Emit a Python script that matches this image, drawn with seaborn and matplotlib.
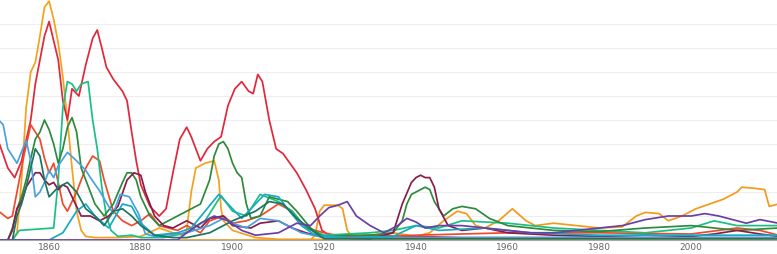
import numpy as np
import matplotlib
matplotlib.use('Agg')
import matplotlib.pyplot as plt
import seaborn as sns
import pandas as pd

# Values (year, value) for each series.
orange_yr = [1849, 1852, 1853, 1854, 1855, 1856, 1857, 1858, 1859, 1860, 1861, 1862, 1863, 1864, 1865,
             1866, 1867, 1868, 1870, 1875, 1880, 1884, 1887, 1889, 1890, 1891, 1892, 1894, 1896, 1897,
             1897.5, 1898, 1900, 1905, 1910, 1930, 1960, 2000, 2019]
orange_val = [0, 0, 0.3, 2.5, 5.5, 7.0, 7.4, 8.5, 9.7, 9.95, 9.2, 8.2, 6.8, 5.0, 3.0,
              1.2, 0.4, 0.15, 0.1, 0.1, 0.15, 0.5, 0.3, 0.2, 0.4, 2.0, 3.0, 3.2, 3.3, 2.5,
              1.3, 0.8, 0.4, 0.1, 0.03, 0.02, 0.02, 0.02, 0.02]

amber_yr = [1849, 1917, 1918, 1919, 1920, 1923, 1924, 1925, 1926, 1930, 1935, 1940, 1943, 1946,
            1949, 1951, 1953, 1955, 1958, 1961, 1964, 1966, 1970, 1975, 1980, 1985, 1988, 1990,
            1993, 1995, 1998, 2001, 2004, 2007, 2010, 2011, 2014, 2016, 2017, 2019]
amber_val = [0, 0, 0.2, 1.2, 1.45, 1.45, 1.3, 0.4, 0.15, 0.2, 0.3, 0.15, 0.3, 0.8,
             1.2, 1.1, 0.6, 0.5, 0.8, 1.3, 0.8, 0.6, 0.7, 0.6, 0.5, 0.55, 1.0, 1.15,
             1.1, 0.8, 1.0, 1.3, 1.5, 1.7, 2.0, 2.2, 2.15, 2.1, 1.4, 1.5]

red_yr = [1849, 1851, 1852.5, 1854, 1856, 1857, 1858, 1859, 1860, 1861, 1862, 1863, 1864, 1865,
          1866.5, 1868, 1869.5, 1870.5, 1871.5, 1872.5, 1874, 1876, 1877, 1878, 1879, 1880, 1882,
          1884, 1885.5, 1887, 1888.5, 1890, 1891, 1893, 1894.5, 1896, 1897.5, 1899, 1900.5, 1902,
          1903.5, 1904.5, 1905.5, 1906.5, 1908, 1909.5, 1911, 1912.5, 1914, 1916, 1918, 1919.5,
          1921, 1925, 1930, 1940, 1950, 1970, 1990, 2010, 2019]
red_val = [4.1, 3.0, 2.6, 3.3, 5.0, 6.5, 7.5, 8.5, 9.1, 8.3, 7.5, 5.8, 5.0, 6.3,
           6.0, 7.3, 8.4, 8.75, 8.0, 7.2, 6.7, 6.2, 5.8, 4.5, 3.3, 2.3, 1.4,
           1.0, 1.3, 2.8, 4.2, 4.7, 4.3, 3.3, 3.8, 4.1, 4.3, 5.6, 6.3, 6.6,
           6.2, 6.1, 6.9, 6.6, 5.0, 3.8, 3.6, 3.2, 2.8, 2.1, 1.3, 0.4,
           0.2, 0.15, 0.2, 0.15, 0.1, 0.1, 0.1, 0.1, 0.1]

scarlet_yr = [1849, 1851, 1852, 1853, 1854.5, 1856, 1857, 1858, 1859, 1860, 1861, 1862, 1863, 1864,
              1866, 1868, 1869.5, 1871, 1872, 1874, 1876, 1878, 1880, 1882, 1884, 1886, 1888,
              1890, 1893, 1895, 1898, 1900, 1903, 1906, 1910, 1913, 1916, 1920, 1925, 1940,
              1960, 1980, 2000, 2010, 2015, 2019]
scarlet_val = [1.2, 0.9, 1.0, 2.0, 3.5, 4.8, 4.5, 4.2, 3.4, 2.8, 3.2, 2.4, 1.5, 1.2,
               2.0, 3.0, 3.5, 3.3, 2.5, 1.2, 0.8, 0.6, 0.8, 1.1, 0.6, 0.5, 0.4,
               0.6, 0.3, 0.8, 1.0, 0.7, 0.8, 1.0, 1.5, 1.2, 0.5, 0.3, 0.1, 0.2,
               0.3, 0.3, 0.25, 0.5, 0.4, 0.2]

mint_yr = [1849, 1852, 1853.5, 1861, 1862, 1863, 1864, 1865, 1866, 1867, 1868.5, 1869.5, 1870.5,
           1871.5, 1872.5, 1873.5, 1875, 1878, 1880, 1885, 1890, 1894, 1897.5, 1900, 1903,
           1906, 1910, 1913, 1916, 1920, 1930, 1935, 1940, 1945, 1950, 1960, 1970, 1980, 1990,
           2000, 2005, 2010, 2019]
mint_val = [0, 0, 0.4, 0.5, 2.5, 5.5, 6.6, 6.5, 6.2, 6.5, 6.6, 5.0, 3.8,
            2.2, 1.0, 0.4, 0.15, 0.2, 0.1, 0.1, 0.3, 0.8, 1.85, 1.2, 1.0,
            1.9, 1.6, 1.2, 0.5, 0.2, 0.3, 0.4, 0.6, 0.5, 0.8, 0.7, 0.5, 0.4, 0.3,
            0.5, 0.8, 0.6, 0.6]

green_yr = [1849, 1851, 1852, 1853, 1854, 1855, 1856, 1857, 1858, 1859, 1860, 1861, 1862, 1863,
            1864, 1865, 1866, 1867, 1868, 1869, 1870, 1872, 1874, 1876, 1877, 1878, 1879, 1880,
            1882, 1884, 1887, 1890, 1893, 1895, 1896, 1897, 1898, 1899, 1900, 1901, 1902, 1903,
            1904, 1906, 1908, 1910, 1912, 1914, 1917, 1920, 1925, 1930, 1935, 1937, 1938, 1939,
            1940, 1941, 1942, 1943, 1944, 1946, 1948, 1950, 1953, 1956, 1960, 1965, 1970, 1980,
            1990, 2000, 2010, 2019]
green_val = [0, 0, 0.5, 1.3, 1.8, 2.5, 3.4, 4.2, 4.5, 5.0, 4.6, 4.0, 3.2, 3.8,
             4.7, 5.1, 4.5, 3.0, 2.5, 2.0, 1.5, 1.0, 1.5, 2.4, 2.8, 2.8, 2.5, 1.8,
             1.0, 0.6, 0.9, 1.2, 1.5, 2.5, 3.5, 4.0, 4.1, 3.8, 3.2, 2.8, 2.6, 1.5,
             0.9, 1.0, 1.8, 1.7, 1.6, 1.2, 0.5, 0.1, 0.2, 0.2, 0.3, 0.8, 1.5, 1.9,
             2.0, 2.1, 2.2, 2.1, 1.6, 1.0, 1.3, 1.4, 1.3, 0.9, 0.6, 0.5, 0.4, 0.35,
             0.5, 0.6, 0.4, 0.5]

maroon_yr = [1849, 1851, 1852, 1853, 1854, 1855, 1856, 1857, 1858, 1859, 1860, 1861, 1862, 1863,
             1864, 1865, 1867, 1869, 1871, 1873, 1875, 1877, 1878.5, 1880, 1881, 1883, 1885, 1887,
             1890, 1893, 1895, 1898, 1900, 1904, 1906, 1910, 1913, 1916, 1920, 1930, 1935, 1937,
             1939, 1940, 1941, 1942, 1943, 1944, 1945, 1947, 1950, 1955, 1960, 1970, 1980, 1990,
             2000, 2005, 2010, 2015, 2019]
maroon_val = [0, 0, 0.4, 1.3, 1.6, 2.2, 2.5, 2.8, 2.8, 2.5, 2.3, 2.4, 2.1, 2.3,
              2.2, 1.8, 1.0, 1.0, 0.8, 1.0, 1.4, 2.5, 2.8, 2.7, 2.0, 1.0, 0.6, 0.5,
              0.8, 0.5, 0.9, 1.0, 0.6, 0.5, 0.7, 0.8, 0.5, 0.3, 0.1, 0.05, 0.3, 1.5,
              2.4, 2.6, 2.7, 2.6, 2.6, 2.2, 1.3, 0.6, 0.4, 0.5, 0.3, 0.2, 0.15, 0.2,
              0.15, 0.25, 0.4, 0.25, 0.15]

sky_yr = [1849, 1850, 1851, 1853, 1855, 1856, 1857, 1858, 1859, 1860, 1861, 1862, 1864, 1866,
          1868, 1869, 1871, 1873, 1874, 1875.5, 1877.5, 1879.5, 1881, 1883, 1885, 1890, 1895,
          1898, 1900, 1903, 1906, 1910, 1915, 1920, 1930, 1950, 1980, 2019]
sky_val = [5.0, 4.8, 3.8, 3.2, 4.15, 3.3, 1.8, 2.0, 2.4, 2.9, 2.6, 3.1, 3.65, 3.3,
           2.9, 2.6, 2.05, 1.4, 1.1, 1.9, 1.8, 1.1, 0.25, 0.15, 0.2, 0.3, 0.6,
           0.9, 0.7, 0.5, 0.9, 0.8, 0.3, 0.1, 0.1, 0.1, 0.1, 0.1]

cyan_yr = [1849, 1860, 1863, 1866, 1868, 1870, 1873, 1876, 1878, 1880, 1883, 1888, 1891, 1894,
           1897, 1899, 1902, 1905, 1907, 1910, 1912, 1915, 1918, 1925, 1935, 1940, 1945, 1955,
           1965, 1980, 2000, 2019]
cyan_val = [0, 0, 0.3, 1.2, 1.5, 1.0, 0.5, 1.5, 1.4, 0.7, 0.2, 0.3, 0.5, 1.2,
            1.9, 1.5, 0.9, 1.5, 1.9, 1.8, 1.3, 0.6, 0.2, 0.1, 0.15, 0.6, 0.4, 0.5,
            0.3, 0.2, 0.2, 0.2]

teal_yr = [1849, 1852, 1853, 1854, 1855, 1856, 1857, 1858, 1859, 1860, 1862, 1864, 1866, 1868,
           1870, 1872, 1874, 1876, 1878, 1880, 1883, 1887, 1890, 1895, 1900, 1905, 1908, 1911,
           1914, 1918, 1920, 1950, 2019]
teal_val = [0, 0, 1.0, 1.5, 2.2, 3.0, 3.8, 3.5, 2.5, 1.8, 2.2, 2.4, 2.0, 1.3,
            1.0, 0.6, 1.2, 1.3, 1.0, 0.6, 0.2, 0.1, 0.1, 0.3, 0.8, 1.2, 1.6, 1.5,
            0.9, 0.3, 0.05, 0.05, 0.05]

purple_yr = [1849, 1888, 1890, 1893, 1896, 1899, 1902, 1905, 1910, 1914, 1917, 1919, 1921, 1923,
             1925, 1927, 1930, 1933, 1936, 1938, 1940, 1942, 1945, 1950, 1955, 1960, 1965, 1970,
             1975, 1980, 1985, 1990, 1995, 2000, 2003, 2006, 2008, 2012, 2015, 2019]
purple_val = [0, 0, 0.3, 0.7, 1.0, 0.8, 0.4, 0.2, 0.3, 0.7, 0.6, 1.0, 1.35, 1.45,
              1.6, 1.0, 0.6, 0.3, 0.6, 0.9, 0.75, 0.5, 0.6, 0.6, 0.5, 0.4, 0.3, 0.3,
              0.4, 0.5, 0.6, 0.85, 1.0, 1.0, 1.1, 1.0, 0.9, 0.7, 0.85, 0.7]

series = {
    'orange': (orange_yr, orange_val, '#f5a11c'),
    'amber': (amber_yr, amber_val, '#f49a1a'),
    'red': (red_yr, red_val, '#e1273b'),
    'scarlet': (scarlet_yr, scarlet_val, '#ef4a2c'),
    'mint': (mint_yr, mint_val, '#1bbf85'),
    'green': (green_yr, green_val, '#2f8a3c'),
    'maroon': (maroon_yr, maroon_val, '#861f4a'),
    'sky': (sky_yr, sky_val, '#48a2e0'),
    'cyan': (cyan_yr, cyan_val, '#18aac0'),
    'teal': (teal_yr, teal_val, '#1d7563'),
    'purple': (purple_yr, purple_val, '#6c3fa6'),
}

frames = [pd.DataFrame({'year': yr, 'value': val, 'series': name})
          for name, (yr, val, _) in series.items()]
df = pd.concat(frames, ignore_index=True)
palette = {name: c for name, (_, _, c) in series.items()}

sns.set_style('white')
fig = plt.figure(figsize=(7.77, 2.54), dpi=100)
ax = fig.add_axes([0, 14 / 254, 1, 240 / 254])

sns.lineplot(data=df, x='year', y='value', hue='series', palette=palette,
             estimator=None, sort=True, linewidth=1.25, legend=False, ax=ax)
for line in ax.get_lines():
    line.set_solid_joinstyle('round')

ax.set_xlim(1849.3, 2018.7)
ax.set_ylim(0, 10)
ax.set_yticks(range(1, 10))
ax.yaxis.grid(True, color='#eeeeee', linewidth=0.8)
ax.set_axisbelow(True)
ax.tick_params(axis='y', direction='in', length=4, color='#cccccc', labelleft=False)
ax.set_xticks(range(1860, 2001, 20))
ax.tick_params(axis='x', direction='out', length=2, color='#999999',
               labelsize=6.5, labelcolor='#666666', pad=0.5)
ax.set_xlabel('')
ax.set_ylabel('')
for side in ['top', 'right', 'left']:
    ax.spines[side].set_visible(False)
ax.spines['bottom'].set_color('#aaaaaa')

fig.savefig('out.png', dpi=100)
